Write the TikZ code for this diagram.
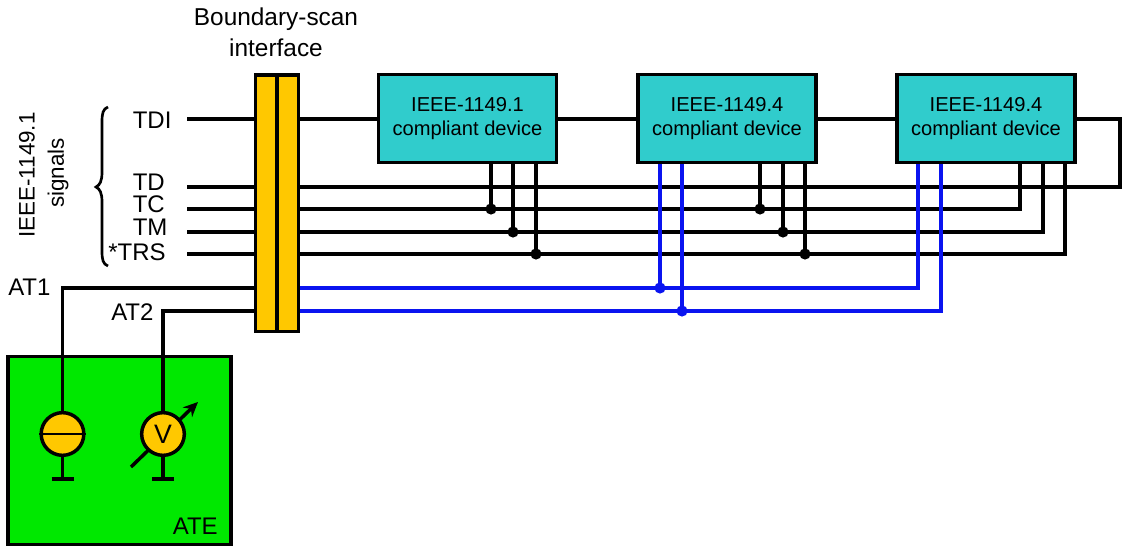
\documentclass[tikz,border=0pt]{standalone}
\usepackage{fontspec}
\usetikzlibrary{arrows.meta}
\setmainfont{Liberation Sans}
\definecolor{scanyellow}{HTML}{FFC800}
\definecolor{devteal}{HTML}{30CCCC}
\definecolor{bluewire}{HTML}{0A14F0}
\definecolor{ategreen}{HTML}{00E800}

\begin{document}
\begin{tikzpicture}[>={Stealth[length=11pt,width=10pt]}, x=0.75pt, y=-0.75pt,
  wire/.style={line width=2.6pt},
  buswire/.style={line width=2.6pt, draw=bluewire},
  device/.style={draw, line width=2.6pt, fill=devteal, inner sep=0pt, align=center,
    minimum width=133.5pt, minimum height=66pt, font=\fontsize{15.1}{18.6}\selectfont},
  scanbar/.style={draw, line width=2.6pt, fill=scanyellow, inner sep=0pt,
    minimum width=16.1pt, minimum height=192.5pt},
  instr/.style={draw, circle, line width=2.6pt, fill=scanyellow, inner sep=0pt,
    minimum size=32pt, font=\fontsize{20}{22}\selectfont},
  lbl/.style={inner sep=0pt, font=\fontsize{18}{20}\selectfont}]
  \useasboundingbox (0,0) rectangle (1122,548);

  % ATE box goes under everything else
  \node[draw, line width=2.6pt, fill=ategreen, minimum width=167pt, minimum height=141pt,
    inner sep=0pt] (ate) at (119.5,450.5) {};

  % Boundary-scan interface
  \node[scanbar] (barA) at (266.2,203.2) {};
  \node[scanbar] (barB) at (287.8,203.2) {};
  \node[lbl, align=center, font=\fontsize{18.3}{23.2}\selectfont] (scantitle) at (276,32) {Boundary-scan\\interface};

  % Devices
  \node[device] (dev1) at (467.5,118.5) {IEEE-1149.1\\compliant device};
  \node[device] (dev2) at (727,118.5) {IEEE-1149.4\\compliant device};
  \node[device] (dev3) at (986,118.5) {IEEE-1149.4\\compliant device};

  % Signal names, left of the bar
  \node[lbl, anchor=west] (tdiname) at (132.5,120) {TDI};
  \node[lbl, anchor=west] (tdname) at (132.5,182) {TD};
  \node[lbl, anchor=west] (tcname) at (132.5,204) {TC};
  \node[lbl, anchor=west] (tmname) at (132.5,227) {TM};
  \node[lbl, anchor=east] (trsname) at (166,252) {*TRS};
  \node[lbl, anchor=west] (atonename) at (8,287) {AT1};
  \node[lbl, anchor=west] (attwoname) at (111,312) {AT2};
  \node[lbl, anchor=east] (atename) at (218,526) {ATE};

  % Side labels and brace
  \node[lbl, rotate=90, font=\fontsize{16.8}{18}\selectfont] (siglabelA) at (27,175) {IEEE-1149.1};
  \node[lbl, rotate=90, font=\fontsize{16.8}{18}\selectfont] (siglabelB) at (58,173) {signals};
  \draw[line width=2pt] (108,107) .. controls (103,109) and (102,113) .. (102,122)
    -- (102,172) .. controls (102,181) and (100,185) .. (96,187)
    .. controls (100,189) and (102,193) .. (102,202)
    -- (102,251) .. controls (102,260) and (103,264) .. (108,266);

  % Free ends of the bus on the left
  \coordinate (tdiL) at (187,119);
  \coordinate (tdL) at (187,187);
  \coordinate (tcL) at (187,209);
  \coordinate (tmL) at (187,232);
  \coordinate (trsL) at (187,254);

  % Left side of the bar
  \draw[wire] (tdiL) -- (tdiL -| barA.west);
  \draw[wire] (tdL) -- (tdL -| barA.west);
  \draw[wire] (tcL) -- (tcL -| barA.west);
  \draw[wire] (tmL) -- (tmL -| barA.west);
  \draw[wire] (trsL) -- (trsL -| barA.west);

  % TDI chain through the devices, looping back into TD
  \coordinate (loopT) at (1120,119);
  \coordinate (loopB) at (1120,187);
  \draw[wire] (tdiL -| barB.east) -- (tdiL -| dev1.west);
  \draw[wire] (tdiL -| dev1.east) -- (tdiL -| dev2.west);
  \draw[wire] (tdiL -| dev2.east) -- (tdiL -| dev3.west);
  \draw[wire] (loopT -| dev3.east) -- (loopT) -- (loopB) -- (tdL -| barB.east);

  % Bus corners at the third device
  \coordinate (tcEnd) at (1020,209);
  \coordinate (tmEnd) at (1043,232);
  \coordinate (trsEnd) at (1065,254);
  \draw[wire] (tcL -| barB.east) -- (tcEnd) -- (tcEnd |- dev3.south);
  \draw[wire] (tmL -| barB.east) -- (tmEnd) -- (tmEnd |- dev3.south);
  \draw[wire] (trsL -| barB.east) -- (trsEnd) -- (trsEnd |- dev3.south);

  % Taps of the first two devices
  \coordinate (tcA) at (491,209);
  \coordinate (tmA) at (513,232);
  \coordinate (trsA) at (536,254);
  \coordinate (tcB) at (760,209);
  \coordinate (tmB) at (783,232);
  \coordinate (trsB) at (805,254);
  \draw[wire] (tcA |- dev1.south) -- (tcA);
  \draw[wire] (tmA |- dev1.south) -- (tmA);
  \draw[wire] (trsA |- dev1.south) -- (trsA);
  \draw[wire] (tcB |- dev2.south) -- (tcB);
  \draw[wire] (tmB |- dev2.south) -- (tmB);
  \draw[wire] (trsB |- dev2.south) -- (trsB);
  \fill (tcA) circle (4.2pt);
  \fill (tmA) circle (4.2pt);
  \fill (trsA) circle (4.2pt);
  \fill (tcB) circle (4.2pt);
  \fill (tmB) circle (4.2pt);
  \fill (trsB) circle (4.2pt);

  % Analog bus in blue
  \coordinate (atoneA) at (660,288);
  \coordinate (attwoA) at (682,311);
  \coordinate (atoneEnd) at (918,288);
  \coordinate (attwoEnd) at (941,311);
  \draw[buswire] (barB.east |- atoneA) -- (atoneEnd) -- (atoneEnd |- dev3.south);
  \draw[buswire] (barB.east |- attwoA) -- (attwoEnd) -- (attwoEnd |- dev3.south);
  \draw[buswire] (atoneA |- dev2.south) -- (atoneA);
  \draw[buswire] (attwoA |- dev2.south) -- (attwoA);
  \fill[bluewire] (atoneA) circle (4.2pt);
  \fill[bluewire] (attwoA) circle (4.2pt);

  % Meter arrow sits behind the voltmeter
  \coordinate (arrowS) at (131,467);
  \coordinate (arrowE) at (198,402);
  \draw[wire, ->] (arrowS) -- (arrowE);

  % Instruments in the ATE
  \node[instr] (source) at (62.5,434) {};
  \node[instr] (meter) at (163,434) {V};
  \draw[line width=2pt] (source.west) -- (source.east);

  % Analog lines down to the instruments
  \coordinate (atoneC) at (62.5,288);
  \coordinate (attwoC) at (163,311);
  \draw[wire] (atoneC -| barA.west) -- (atoneC) -- (source.north);
  \draw[wire] (attwoC -| barA.west) -- (attwoC) -- (meter.north);

  % Grounds
  \coordinate (gndA) at (62.5,479);
  \coordinate (gndB) at (163,479);
  \draw[wire] (source.south) -- (gndA);
  \draw[wire] (meter.south) -- (gndB);
  \draw[wire] (gndA) ++(-11,0) -- ++(22,0);
  \draw[wire] (gndB) ++(-11,0) -- ++(22,0);
\end{tikzpicture}
\end{document}
